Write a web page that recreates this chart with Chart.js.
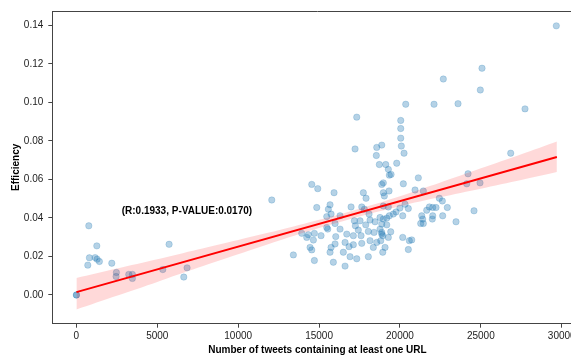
<!DOCTYPE html>
<html>
<head>
<meta charset="utf-8">
<script src="https://cdn.jsdelivr.net/npm/chart.js@4.4.0/dist/chart.umd.min.js"></script>
<style>
  html, body { margin: 0; padding: 0; background: #fff; overflow: hidden; }
  #wrap { width: 600px; height: 358px; }
</style>
</head>
<body>
<div id="wrap"><canvas id="effChart" width="600" height="358"></canvas></div>
<script>
// tweets with URL vs efficiency
const tweetsX = [
  0, 0, 766, 1261, 803, 704, 1156, 1279, 1421, 2187, 2472, 2453, 3238, 3460, 3460,
  5729, 5340, 6637, 6841, 12076, 13411,
  17329, 17224, 18565, 18874, 18540, 18726, 19121, 14547, 14918, 15926, 17737, 17904,
  18874, 18972, 14856, 15679, 15574, 15741, 15475, 15536, 16297, 16977, 17638, 17800,
  18089, 17181, 17533, 17244, 17427, 17885, 18150, 18460, 18769, 18769, 18874, 18398,
  18046, 17595, 17119, 16711, 16297, 16031, 16606, 16853, 17119, 17638, 18150, 18565,
  18355, 18812, 15741, 15679, 15988, 16500, 16915, 17329, 18046, 15883, 16606, 14710,
  14443, 14547, 14710, 14338, 13930, 14239, 15122, 14649, 15988, 15475,
  20357, 22106, 23589, 20048, 20048, 20048, 20085, 20252, 19800, 19282, 19344, 19449,
  18972, 19035, 19325, 20209, 21136, 20932, 21445, 22434, 22620, 22929, 22641, 23465,
  20314, 20518, 19996, 19757, 19590, 19344, 19182, 18972, 20171, 19282, 18972, 21655,
  21819, 22025, 22229, 21345, 21407, 22025, 22000, 21283, 21445, 19182, 18874, 19430,
  18874, 18937, 19282, 20171, 20580, 20727, 20518, 19078, 18937,
  27730, 26846, 24207, 24127, 24949, 24578, 29665, 25072, 22681, 24967
];
const efficiencyY = [
  0, 0, 0.0359, 0.0255, 0.0193, 0.0155, 0.0194, 0.0186, 0.0174, 0.0165, 0.0117, 0.0096, 0.0107, 0.0107, 0.0086,
  0.0263, 0.0132, 0.0093, 0.0141, 0.0493, 0.0208,
  0.0923, 0.0758, 0.0766, 0.0778, 0.0724, 0.0677, 0.0677, 0.0574, 0.0552, 0.0531, 0.0531, 0.0502,
  0.0574, 0.0531, 0.0454, 0.0468, 0.0445, 0.0420, 0.0407, 0.0342, 0.0411, 0.0457, 0.0457, 0.0445,
  0.0420, 0.0385, 0.0385, 0.0359, 0.0337, 0.0364, 0.0389, 0.0380, 0.0402, 0.0342, 0.0316, 0.0325,
  0.0330, 0.0308, 0.0308, 0.0316, 0.0342, 0.0303, 0.0273, 0.0251, 0.0261, 0.0268, 0.0282, 0.0273,
  0.0247, 0.0282, 0.0247, 0.0222, 0.0265, 0.0222, 0.0199, 0.0188, 0.0199, 0.0170, 0.0150, 0.0179,
  0.0247, 0.0234, 0.0320, 0.0313, 0.0320, 0.0299, 0.0308, 0.0285, 0.0371, 0.0350,
  0.0990, 0.0990, 0.0993, 0.0906, 0.0864, 0.0814, 0.0773, 0.0736, 0.0684, 0.0652, 0.0622, 0.0626,
  0.0582, 0.0514, 0.0540, 0.0577, 0.0608, 0.0545, 0.0540, 0.0502, 0.0488, 0.0454, 0.0411, 0.0380,
  0.0471, 0.0449, 0.0451, 0.0431, 0.0420, 0.0411, 0.0399, 0.0394, 0.0411, 0.0457, 0.0462, 0.0440,
  0.0457, 0.0454, 0.0454, 0.0411, 0.0394, 0.0411, 0.0394, 0.0371, 0.0371, 0.0364, 0.0368, 0.0328,
  0.0325, 0.0308, 0.0299, 0.0299, 0.0282, 0.0286, 0.0236, 0.0247, 0.0222,
  0.0966, 0.0736, 0.0629, 0.0577, 0.0582, 0.0437, 0.1397, 0.1177, 0.1121, 0.1064
];

// regression fit line and its confidence band
const fitX = [0, 29700];
const fitY = [0.0015, 0.0716];
const bandX    = [0, 2500, 5000, 7500, 10000, 12500, 15000, 17500, 20000, 22500, 25000, 27500, 29700];
const bandLow  = [-0.0075, -0.0004, 0.0068, 0.0141, 0.0212, 0.0282, 0.0348, 0.0408, 0.0461, 0.0508, 0.0552, 0.0597, 0.0638];
const bandHigh = [0.0088, 0.0137, 0.0185, 0.0236, 0.0286, 0.0336, 0.0390, 0.0448, 0.0513, 0.0584, 0.0658, 0.0731, 0.0797];

const xTicks = [0, 5000, 10000, 15000, 20000, 25000, 30000];
const yTicks = [0, 0.02, 0.04, 0.06, 0.08, 0.10, 0.12, 0.14];
const statLabel = '(R:0.1933, P-VALUE:0.0170)';

function pairs(xs, ys) {
  return xs.map(function(x, i) { return { x: x, y: ys[i] }; });
}

Chart.defaults.font.family = "'Liberation Sans', Arial, sans-serif";
Chart.defaults.color = '#222';

// top/right spines + stats text
const extras = {
  id: 'extras',
  afterDraw: function(chart) {
    const ctx = chart.ctx, a = chart.chartArea;
    const xs = chart.scales.x, ys = chart.scales.y;
    ctx.save();
    ctx.strokeStyle = '#444';
    ctx.lineWidth = 1;
    ctx.beginPath();
    ctx.moveTo(a.left, a.top + 0.5);
    ctx.lineTo(a.right, a.top + 0.5);
    ctx.lineTo(a.right - 0.5, a.bottom);
    ctx.stroke();
    ctx.fillStyle = '#000';
    ctx.font = "bold 10px 'Liberation Sans', Arial, sans-serif";
    ctx.textAlign = 'left';
    ctx.textBaseline = 'middle';
    ctx.fillText(statLabel, xs.getPixelForValue(2800), ys.getPixelForValue(0.0437));
    ctx.restore();
  }
};

const ctx = document.getElementById('effChart').getContext('2d');
const effChart = new Chart(ctx, {
  type: 'scatter',
  data: {
    datasets: [
      {
        type: 'line',
        data: pairs(fitX, fitY),
        borderColor: '#ff0000',
        borderWidth: 2,
        pointRadius: 0,
        fill: false,
        order: 1
      },
      {
        type: 'line',
        data: pairs(bandX, bandLow),
        borderWidth: 0,
        borderColor: 'rgba(0,0,0,0)',
        pointRadius: 0,
        fill: false,
        tension: 0.3,
        order: 2
      },
      {
        type: 'line',
        data: pairs(bandX, bandHigh),
        borderWidth: 0,
        borderColor: 'rgba(0,0,0,0)',
        backgroundColor: 'rgba(255, 0, 0, 0.15)',
        pointRadius: 0,
        fill: '-1',
        tension: 0.3,
        order: 2
      },
      {
        data: pairs(tweetsX, efficiencyY),
        backgroundColor: 'rgba(31, 119, 180, 0.33)',
        borderColor: 'rgba(31, 119, 180, 0.3)',
        borderWidth: 0.7,
        pointRadius: 3.2,
        order: 3
      }
    ]
  },
  options: {
    responsive: false,
    animation: false,
    layout: { padding: { left: 0, right: 17.4, top: 9, bottom: 0 } },
    plugins: {
      legend: { display: false },
      tooltip: { enabled: false }
    },
    scales: {
      x: {
        type: 'linear',
        min: -1490,
        max: 31290,
        afterBuildTicks: function(scale) {
          scale.ticks = xTicks.map(function(v) { return { value: v }; });
        },
        afterFit: function(scale) { scale.height = 34.3; },
        ticks: {
          font: { size: 10 },
          padding: 3,
          maxRotation: 0,
          callback: function(v) { return String(v); }
        },
        grid: { drawOnChartArea: false, drawTicks: true, tickLength: 4, color: '#444' },
        border: { display: true, color: '#444', width: 1 },
        title: {
          display: true,
          text: 'Number of tweets containing at least one URL',
          font: { size: 10, weight: 'bold' },
          color: '#000',
          padding: { top: 0, bottom: 2 }
        }
      },
      y: {
        type: 'linear',
        min: -0.0149,
        max: 0.1474,
        afterBuildTicks: function(scale) {
          scale.ticks = yTicks.map(function(v) { return { value: v }; });
        },
        afterFit: function(scale) { scale.width = 52.3; },
        ticks: {
          font: { size: 10 },
          padding: 5,
          callback: function(v) { return v.toFixed(2); }
        },
        grid: { drawOnChartArea: false, drawTicks: true, tickLength: 4, color: '#444' },
        border: { display: true, color: '#444', width: 1 },
        title: {
          display: true,
          text: 'Efficiency',
          font: { size: 10, weight: 'bold' },
          color: '#000',
          padding: { top: 10, bottom: 0 }
        }
      }
    }
  },
  plugins: [extras]
});
</script>
</body>
</html>
